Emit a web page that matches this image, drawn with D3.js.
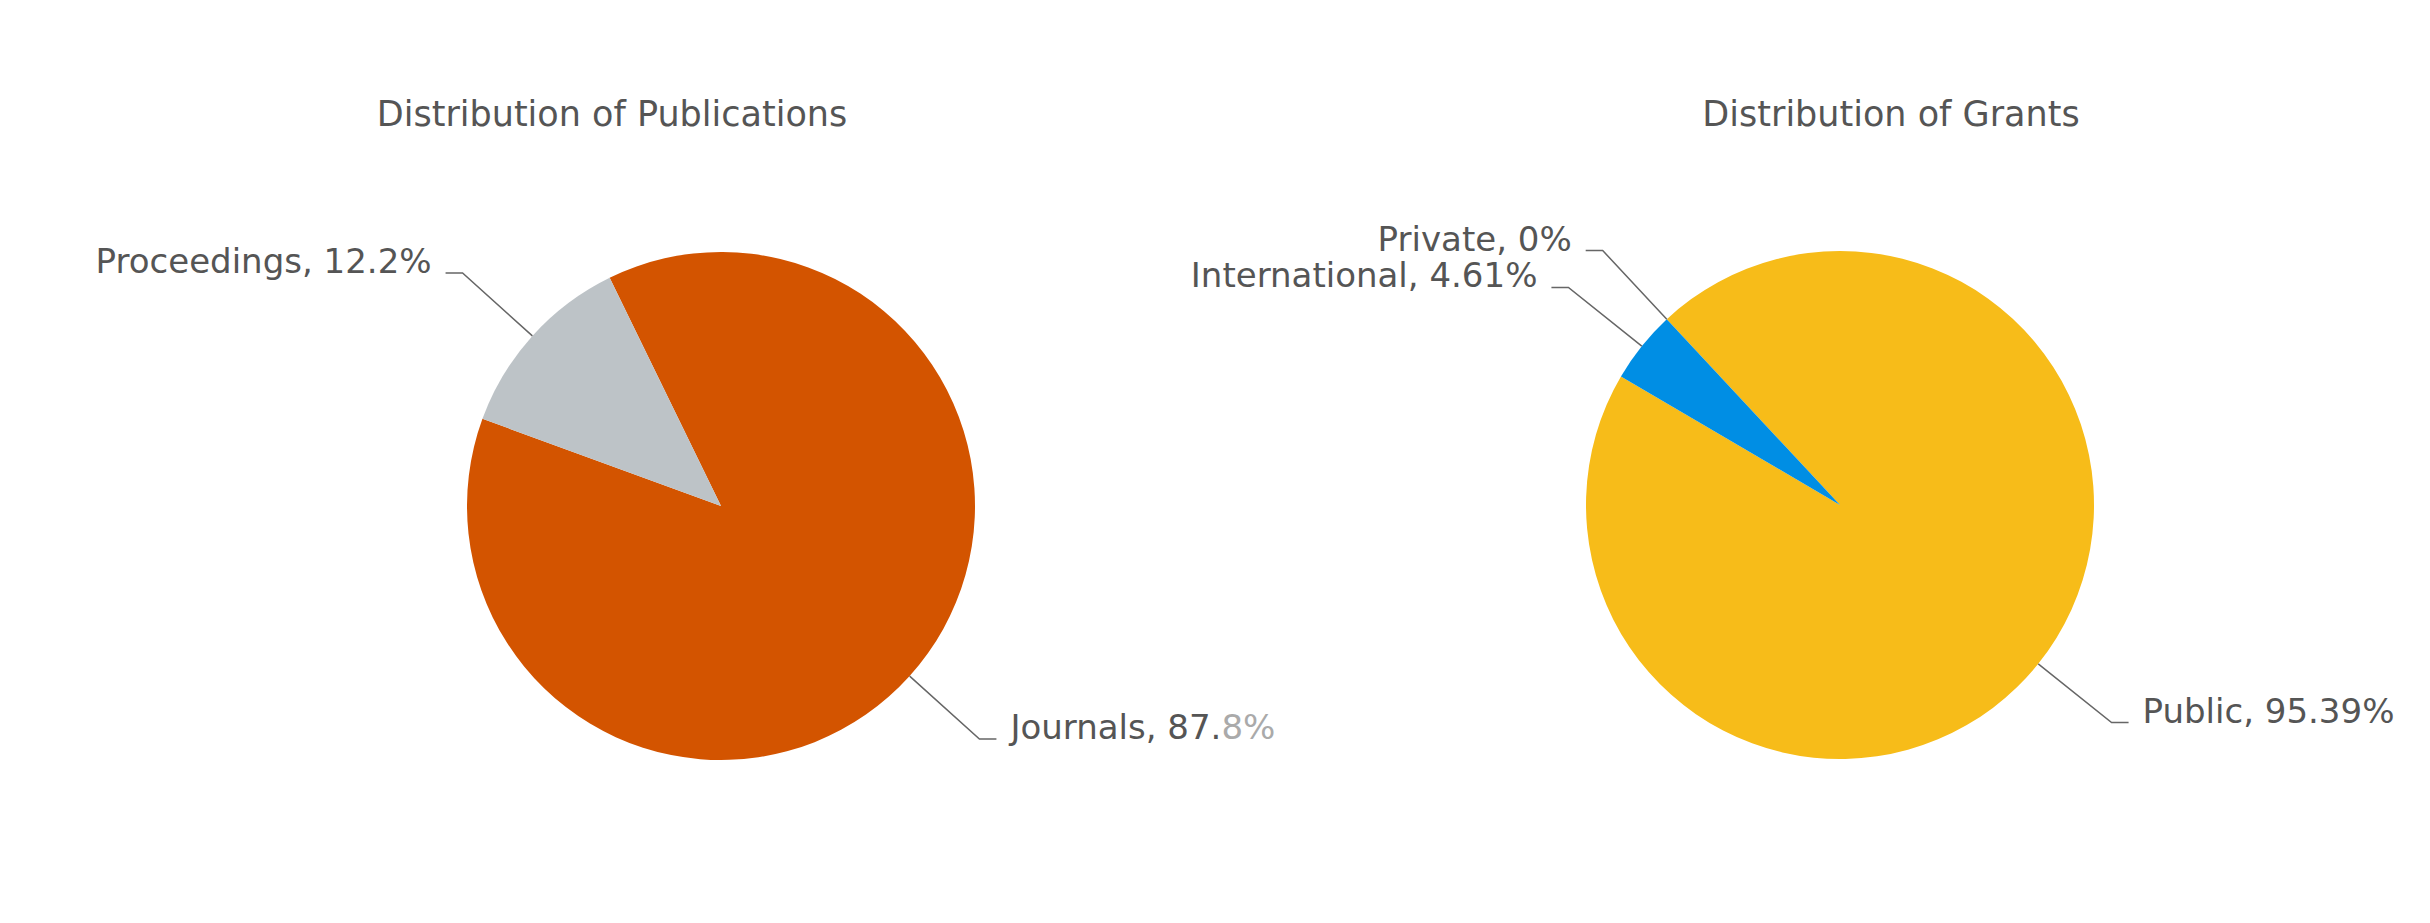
<!DOCTYPE html>
<html><head><meta charset="utf-8">
<script src="https://cdn.jsdelivr.net/npm/d3@7"></script>
<style>body{margin:0;background:#fff}</style>
</head><body><svg width="2430" height="923"></svg>
<script>
// Publications
const pubCats = ["Journals", "Proceedings"]
const pubValues = [87.8, 12.2]
const pubColors = ["#d35400", "#bdc3c7"]
// Grants
const grantCats = ["Public", "International", "Private"]
const grantValues = [95.39, 4.61, 0]
const grantColors = ["#f7bc19", "#008ee4", "#8e44ad"]

const svg = d3.select("svg")
const r = 254
const deg = Math.PI / 180

function drawPie(cx, cy, titleX, title, cats, vals, colors, start) {
  svg.append("text").attr("x", titleX).attr("y", 126).attr("text-anchor", "middle")
    .style("font", "35px 'DejaVu Sans'").style("fill", "#555").text(title)
  const g = svg.append("g").attr("transform", `translate(${cx},${cy})`)
  const data = cats.map((c, i) => ({c, v: vals[i], col: colors[i]}))
  const arcs = d3.pie().value(d => d.v).sort(null)
    .startAngle(start).endAngle(start + 2 * Math.PI)(data)
  const arc = d3.arc().innerRadius(0).outerRadius(r)
  g.selectAll("path").data(arcs).join("path").attr("d", arc).attr("fill", d => d.data.col)

  arcs.forEach(a => {
    const m = (a.startAngle + a.endAngle) / 2
    const p1 = [r * Math.sin(m), -r * Math.cos(m)]
    const p2 = [1.37 * r * Math.sin(m), -1.37 * r * Math.cos(m)]
    const right = Math.sin(m) > 0
    const p3 = [p2[0] + (right ? 17 : -17), p2[1]]
    g.append("polyline").attr("points", [p1, p2, p3].map(p => p.join(",")).join(" "))
      .attr("fill", "none").attr("stroke", "#666").attr("stroke-width", 1.5)
    const t = g.append("text").attr("x", p3[0] + (right ? 14 : -14)).attr("y", p2[1])
      .attr("text-anchor", right ? "start" : "end")
      .style("font", "34px 'DejaVu Sans'").style("fill", "#555")
    const lbl = `${a.data.c}, ${a.data.v}%`
    if (a.data.c === "Journals") {
      t.append("tspan").text(lbl.slice(0, -2))
      t.append("tspan").style("fill", "#aaa").text(lbl.slice(-2))
    } else t.text(lbl)
  })
}

drawPie(721, 506, 612, "Distribution of Publications", pubCats, pubValues, pubColors, -26 * deg)
drawPie(1840, 505, 1891, "Distribution of Grants", grantCats, grantValues, grantColors, -43 * deg)
</script></body></html>
